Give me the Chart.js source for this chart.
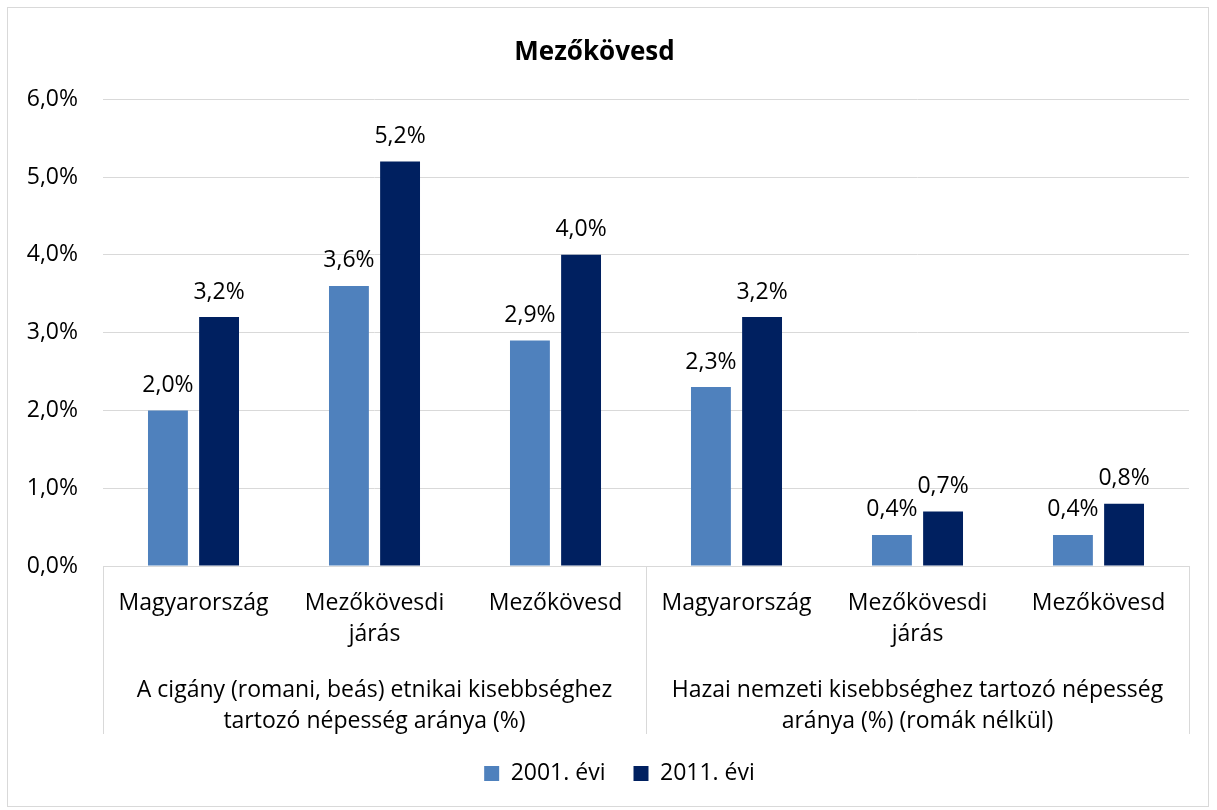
<!DOCTYPE html>
<html>
<head>
<meta charset="utf-8">
<script src="https://cdn.jsdelivr.net/npm/chart.js@4.4.1/dist/chart.umd.min.js"></script>
<style>
  html, body { margin: 0; padding: 0; background: #fff; }
  #wrap { position: relative; width: 1217px; height: 810px; }
  #frame { position: absolute; left: 7px; top: 7px; width: 1202px; height: 800px; border: 1px solid #D9D9D9; box-sizing: border-box; pointer-events: none; }
  canvas { position: absolute; left: 0; top: 0; }
</style>
</head>
<body>
<div id="wrap">
  <canvas id="chart" width="1217" height="810"></canvas>
  <div id="frame"></div>
</div>
<script>
// Sub-categories (areas) shown under each bar pair
const areas = ['Magyarország', ['Mezőkövesdi', 'járás'], 'Mezőkövesd',
               'Magyarország', ['Mezőkövesdi', 'járás'], 'Mezőkövesd'];

// Group captions, placed under the middle area of each group of three
const groupCaptions = ['', ['A cigány (romani, beás) etnikai kisebbséghez', 'tartozó népesség aránya (%)'], '',
                       '', ['Hazai nemzeti kisebbséghez tartozó népesség', 'aránya (%) (romák nélkül)'], ''];

// Share of population, percent
const year2001 = [2.0, 3.6, 2.9, 2.3, 0.4, 0.4];
const year2011 = [3.2, 5.2, 4.0, 3.2, 0.7, 0.8];

const seriesNames = ['2001. évi', '2011. évi'];
const yTicks = [0, 1, 2, 3, 4, 5, 6];

const FONT = '"Open Sans"';
const SIZE = 23;
const fmt = v => v.toFixed(1).replace('.', ',') + '%';

// Value labels above each bar
const valueLabels = {
  id: 'valueLabels',
  afterDatasetsDraw(chart) {
    const ctx = chart.ctx;
    ctx.save();
    ctx.font = SIZE + 'px ' + FONT;
    ctx.fillStyle = '#000';
    ctx.textAlign = 'center';
    ctx.textBaseline = 'middle';
    chart.data.datasets.forEach((ds, di) => {
      chart.getDatasetMeta(di).data.forEach((bar, i) => {
        ctx.fillText(fmt(ds.data[i]), bar.x, bar.y - 25);
      });
    });
    ctx.restore();
  }
};

// Vertical dividers between the two groups, running through the label area
const groupDividers = {
  id: 'groupDividers',
  afterDraw(chart) {
    const x = chart.scales.x, x2 = chart.scales.x2;
    const n = areas.length;
    const step = (x.right - x.left) / n;
    const ctx = chart.ctx;
    ctx.save();
    ctx.strokeStyle = '#D9D9D9';
    ctx.lineWidth = 1;
    [0, 3, 6].forEach(k => {
      const px = Math.round(x.left + k * step) + 0.5;
      ctx.beginPath();
      ctx.moveTo(px, x.top);
      ctx.lineTo(px, x2.bottom);
      ctx.stroke();
    });
    ctx.restore();
  }
};

// Nudge the legend row a little to the right of the plot's centre
const legendShift = {
  id: 'legendShift',
  afterLayout(chart) {
    chart.legend.left += 25;
    chart.legend.right += 25;
  }
};

new Chart(document.getElementById('chart'), {
  type: 'bar',
  data: {
    labels: areas,
    datasets: [
      { label: seriesNames[0], data: year2001, backgroundColor: '#4F81BD', borderWidth: 0 },
      { label: seriesNames[1], data: year2011, backgroundColor: '#002060', borderWidth: 0 }
    ]
  },
  options: {
    responsive: false,
    animation: false,
    devicePixelRatio: 1,
    categoryPercentage: 0.565,
    barPercentage: 0.78,
    layout: { padding: { left: 0, right: 28, top: 0, bottom: 15 } },
    plugins: {
      tooltip: { enabled: false },
      title: {
        display: true,
        text: 'Mezőkövesd',
        color: '#000',
        font: { family: FONT, size: 26, weight: 'bold' },
        padding: { top: 37, bottom: 31 }
      },
      legend: {
        position: 'bottom',
        labels: {
          color: '#000',
          font: { family: FONT, size: SIZE },
          boxWidth: 15,
          boxHeight: 15,
          padding: 28
        }
      }
    },
    scales: {
      y: {
        min: 0,
        max: 6,
        afterBuildTicks: s => { s.ticks = yTicks.map(v => ({ value: v })); },
        ticks: { callback: v => fmt(v), color: '#000', font: { family: FONT, size: SIZE }, padding: 25 },
        grid: { color: '#D9D9D9', drawTicks: false },
        border: { display: false },
        afterFit: s => { s.width = 103; }
      },
      x: {
        ticks: { color: '#000', font: { family: FONT, size: SIZE, lineHeight: 1.35 }, padding: 22, maxRotation: 0, minRotation: 0, autoSkip: false },
        grid: { display: false, drawTicks: false },
        border: { display: true, color: '#D9D9D9' },
        afterFit: s => { s.height = 85; }
      },
      x2: {
        type: 'category',
        position: 'bottom',
        labels: groupCaptions,
        offset: true,
        ticks: { color: '#000', font: { family: FONT, size: SIZE, lineHeight: 1.35 }, padding: 24, maxRotation: 0, minRotation: 0, autoSkip: false },
        grid: { display: false, drawTicks: false },
        border: { display: false },
        afterFit: s => { s.height = 83; }
      }
    }
  },
  plugins: [valueLabels, groupDividers, legendShift]
});
</script>
</body>
</html>
